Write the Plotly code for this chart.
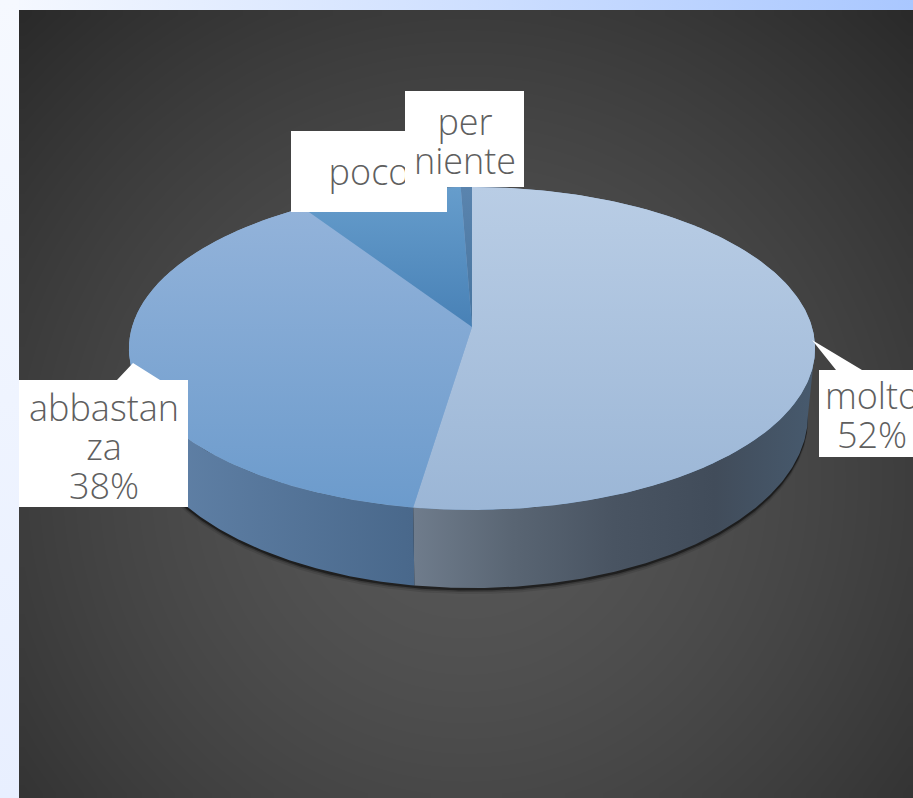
import numpy as np
import plotly.graph_objects as go

categories = ["molto", "abbastanza", "poco", "per niente"]
values = [52.4, 38.3, 8.7, 0.6]
label_lines = [["molto", "52%"], ["abbastan", "za", "38%"], ["poco"], ["per", "niente"]]

W, H = 913, 798
FONT = dict(family="Open Sans, Lato, sans-serif", size=36, color="#5f5f5f", weight=300)

# perspective model of the pie plane, in pixels
CX, K = 472.0, 0.133
TOP = dict(a=340.0, b=158.6, y0=327.0)
LOW = dict(a=333.0, b=170.0, y0=392.0)


def project(t_deg, plane):
    t = np.radians(t_deg)
    u, v = np.sin(t), np.cos(t)
    w = 1 + K * v
    return CX + plane["a"] * u / w, plane["y0"] - plane["b"] * v / w


def arc(t0, t1, plane):
    ts = np.linspace(t0, t1, max(int(abs(t1 - t0)) * 2, 2) + 1)
    return project(ts, plane)


# angular extent of each slice, clockwise from 12 o'clock
edges = np.concatenate([[0], np.cumsum(values)]) / np.sum(values) * 360

# (upper colour, lower colour)
TOP_GRAD = [("#b9cde5", "#9bb6d6"), ("#93b3da", "#6c9bcc"), ("#669dcc", "#4881b6"), ("#5a84ae", "#46749f")]
# colour stops, left to right
SIDE_GRAD = [
    [[0, "#6f7c8c"], [0.25, "#596573"], [0.5, "#495462"], [0.75, "#414c5a"], [1, "#475a6e"]],
    [[0, "#6384aa"], [1, "#49688b"]],
    [[0, "#40607f"], [1, "#40607f"]],
    [[0, "#40607f"], [1, "#40607f"]],
]
VIS0 = 97.6
VIS1 = 262.4
LINE_GAP = 39
TEXT_DY = 4

fig = go.Figure()


def grad(kind, c0, c1):
    return dict(type=kind, colorscale=[[0, c0], [1, c1]])


def vgrad(upper, lower):
    # the y axis is reversed, so the gradient runs bottom to top on screen
    return grad("vertical", lower, upper)


def poly(xs, ys, **kw):
    fig.add_trace(go.Scatter(x=xs, y=ys, mode="lines", line=dict(width=0), fill="toself",
                             hoverinfo="skip", showlegend=False, **kw))


# page strips
poly([0, W, W, 0], [0, 0, 10, 10], fillgradient=grad("horizontal", "#f6f9ff", "#a9c7ff"))
poly([0, 19, 19, 0], [0, 0, H, H], fillgradient=vgrad("#f6f9ff", "#e8efff"))

# panel radial gradient
gx = np.linspace(19, W, 91)
gy = np.linspace(10, H, 81)
cxs, cys = (gx[:-1] + gx[1:]) / 2, (gy[:-1] + gy[1:]) / 2
XX, YY = np.meshgrid(cxs, cys)
rr = np.hypot((XX - 466) / 660, (YY - 480) / 660)
zz = 0x57 - (0x57 - 0x28) * np.clip(rr, 0, 1) ** 1.5
fig.add_trace(go.Heatmap(x=gx, y=gy, z=zz, zmin=0, zmax=255, zsmooth="best", showscale=False,
                         colorscale=[[0, "#000000"], [1, "#ffffff"]], hoverinfo="skip"))

# soft shadow below the pie
sx, sy = arc(VIS0 - 8, VIS1 + 8, LOW)
for off, alpha in [(6, 0.10), (4, 0.2), (2.5, 0.45)]:
    poly(sx, sy + off, fillcolor=f"rgba(0,0,0,{alpha})")

# visible rim of each slice
for i in range(len(values)):
    t0, t1 = max(edges[i], VIS0), min(edges[i + 1], VIS1)
    if t1 <= t0:
        continue
    ux, uy = arc(t0, t1, TOP)
    lx, ly = arc(t0, t1, LOW)
    poly(np.r_[ux, lx[::-1]], np.r_[uy, ly[::-1]],
         fillgradient=dict(type="horizontal", colorscale=SIDE_GRAD[i]))

# underlay so no seam shows between the top faces
ux, uy = arc(0, 360, TOP)
poly(ux, uy, fillgradient=vgrad("#93b3da", "#7fa5cf"))

# top faces
for i in range(len(values)):
    ax, ay = arc(edges[i], edges[i + 1], TOP)
    c0, c1 = TOP_GRAD[i]
    poly(np.r_[CX, ax], np.r_[TOP["y0"], ay], fillgradient=vgrad(c0, c1))


def text_at(x, y_mid, lines):
    ys = [y_mid + TEXT_DY + (j - (len(lines) - 1) / 2) * LINE_GAP for j in range(len(lines))]
    fig.add_trace(go.Scatter(x=[x] * len(lines), y=ys, mode="text", text=lines, textposition="middle center",
                             textfont=FONT, hoverinfo="skip", showlegend=False, cliponaxis=True))


# callouts, in drawing order
poly([819, 836, 812, 862, W, W, 819], [370, 370, 340, 370, 370, 457, 457], fillcolor="#ffffff")
text_at(872, 415, label_lines[0])
poly([19, 117, 133, 160, 188, 188, 19], [380, 380, 363, 380, 380, 507, 507], fillcolor="#ffffff")
text_at(104, 447, label_lines[1])
poly([291, 447, 447, 291], [131, 131, 212, 212], fillcolor="#ffffff")
text_at(369, 172, label_lines[2])
poly([405, 524, 524, 405], [91, 91, 187, 187], fillcolor="#ffffff")
text_at(465, 141, label_lines[3])

fig.update_layout(
    width=W, height=H, margin=dict(l=0, r=0, t=0, b=0, pad=0),
    paper_bgcolor="#f6f9ff", plot_bgcolor="#f6f9ff", showlegend=False,
    xaxis=dict(range=[0, W], visible=False, fixedrange=True),
    yaxis=dict(range=[H, 0], visible=False, fixedrange=True),
)
fig.write_html("out.html", config=dict(displayModeBar=False),
               post_script="document.body.style.margin='0';document.documentElement.style.overflow='hidden';")
